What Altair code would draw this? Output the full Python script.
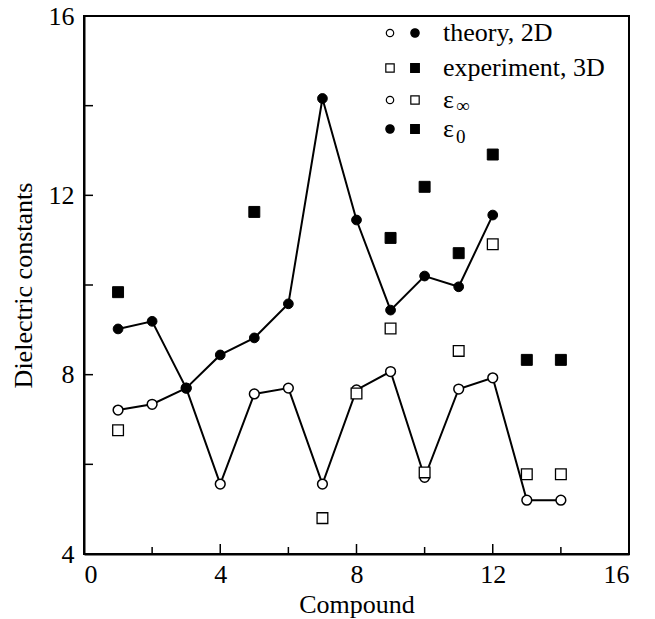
import altair as alt
import pandas as pd

# ---- data ----
theory_x = list(range(1, 15))
theory_eps_inf = [7.21, 7.34, 7.70, 5.56, 7.57, 7.70, 5.56, 7.66, 8.07, 5.71, 7.68, 7.93, 5.20, 5.20]
theory_eps0_x = list(range(1, 13))
theory_eps0 = [9.02, 9.19, 7.70, 8.44, 8.82, 9.58, 14.16, 11.45, 9.44, 10.20, 9.96, 11.56]

exp_eps_inf_x = [1, 7, 8, 9, 10, 11, 12, 13, 14]
exp_eps_inf = [6.76, 4.80, 7.58, 9.03, 5.82, 8.53, 10.91, 5.78, 5.78]
exp_eps0_x = [1, 5, 9, 10, 11, 12, 13, 14]
exp_eps0 = [9.84, 11.63, 11.05, 12.19, 10.71, 12.91, 8.33, 8.33]

x_labels = [0, 4, 8, 12, 16]
y_labels = [4, 8, 12, 16]
x_ticks = [2, 4, 6, 8, 10, 12, 14]
y_ticks = [6, 8, 10, 12, 14]

legend_labels = ["theory, 2D", "experiment, 3D", "ε", "ε"]
legend_subs = ["∞", "0"]

W, H = 545, 538
FONT = "Liberation Serif"
FS = 26

df_ti = pd.DataFrame({"x": theory_x, "y": theory_eps_inf})
df_t0 = pd.DataFrame({"x": theory_eps0_x, "y": theory_eps0})
df_ei = pd.DataFrame({"x": exp_eps_inf_x, "y": exp_eps_inf})
df_e0 = pd.DataFrame({"x": exp_eps0_x, "y": exp_eps0})

xs = alt.Scale(domain=[0, 16], nice=False, zero=False)
ys = alt.Scale(domain=[4, 16], nice=False, zero=False)

X = alt.X("x:Q", scale=xs, title="Compound",
          axis=alt.Axis(values=x_labels, ticks=False, grid=False, labelPadding=7,
                        titlePadding=4, domainColor="black", domainWidth=2))
Y = alt.Y("y:Q", scale=ys, title="Dielectric constants",
          axis=alt.Axis(values=y_labels, ticks=False, grid=False, labelPadding=10,
                        titlePadding=12, domainColor="black", domainWidth=2))

line_t0 = alt.Chart(df_t0).mark_line(color="black", strokeWidth=2).encode(x=X, y=Y)
line_ti = alt.Chart(df_ti).mark_line(color="black", strokeWidth=2).encode(x=X, y=Y)
pts_ti = alt.Chart(df_ti).mark_point(shape="circle", filled=True, fill="white", stroke="black",
                                     strokeWidth=1.5, size=95, opacity=1).encode(x=X, y=Y)
pts_t0 = alt.Chart(df_t0).mark_point(shape="circle", filled=True, fill="black", stroke="black",
                                     strokeWidth=1, size=95, opacity=1).encode(x=X, y=Y)
pts_ei = alt.Chart(df_ei).mark_point(shape="square", filled=True, fill="white", stroke="black",
                                     strokeWidth=1.3, size=115, opacity=1).encode(x=X, y=Y)
pts_e0 = alt.Chart(df_e0).mark_point(shape="square", filled=True, fill="black", stroke="black",
                                     strokeWidth=1, size=120, opacity=1).encode(x=X, y=Y)

# inward ticks
xt = pd.DataFrame({"x": x_ticks})
xt["py"] = H
xt["py2"] = [H - (10 if t % 4 == 0 else 7) for t in x_ticks]
yt = pd.DataFrame({"y": y_ticks})
xtick = alt.Chart(xt).mark_rule(color="black", strokeWidth=1.5).encode(
    x=alt.X("x:Q", scale=xs), y=alt.Y("py:Q", scale=None), y2="py2:Q")
ytick = alt.Chart(yt).mark_rule(color="black", strokeWidth=1.5).encode(
    y=alt.Y("y:Q", scale=ys), x=alt.value(0), x2=alt.value(9))

# legend (drawn inside the plot, top right)
rows_y = [17, 52, 84, 113]
m1x, m2x, tx = 306, 331, 359
leg_markers = pd.DataFrame({
    "px": [m1x, m2x] * 4,
    "py": [r for r in rows_y for _ in (0, 1)],
    "kind": ["oc", "fc", "os", "fs", "oc", "os", "fc", "fs"],
})
def legmark(kind, shape, fill, size):
    return alt.Chart(leg_markers[leg_markers.kind == kind]).mark_point(
        shape=shape, filled=True, fill=fill, stroke="black", strokeWidth=1.2,
        size=size, opacity=1).encode(
        x=alt.X("px:Q", scale=None), y=alt.Y("py:Q", scale=None))
leg = [legmark("oc", "circle", "white", 55), legmark("fc", "circle", "black", 70),
       legmark("os", "square", "white", 70), legmark("fs", "square", "black", 75)]

leg_text = pd.DataFrame({"px": [tx] * 4, "py": rows_y, "t": legend_labels})
leg_t = alt.Chart(leg_text).mark_text(align="left", baseline="middle", font=FONT,
                                      fontSize=FS, color="black").encode(
    x=alt.X("px:Q", scale=None), y=alt.Y("py:Q", scale=None), text="t:N")
sub_df = pd.DataFrame({"px": [tx + 13] * 2, "py": [rows_y[2] + 6, rows_y[3] + 8], "t": legend_subs})
leg_sub = alt.Chart(sub_df).mark_text(align="left", baseline="middle", font=FONT,
                                      fontSize=19, color="black").encode(
    x=alt.X("px:Q", scale=None), y=alt.Y("py:Q", scale=None), text="t:N")

chart = alt.layer(line_t0, line_ti, pts_ti, pts_t0, pts_ei, pts_e0, xtick, ytick,
                  *leg, leg_t, leg_sub).properties(
    width=W, height=H,
    autosize=alt.AutoSizeParams(type="none"),
    padding={"left": 76, "top": 8, "right": 18, "bottom": 65},
    background="white",
).configure_view(stroke="black", strokeWidth=2).configure_axis(
    labelFont=FONT, titleFont=FONT, labelFontSize=FS, titleFontSize=FS,
    labelColor="black", titleColor="black", titleFontWeight="normal",
).configure_text(font=FONT).configure_mark(font=FONT)

chart.save("out.html", embed_options={"renderer": "svg", "actions": False})
